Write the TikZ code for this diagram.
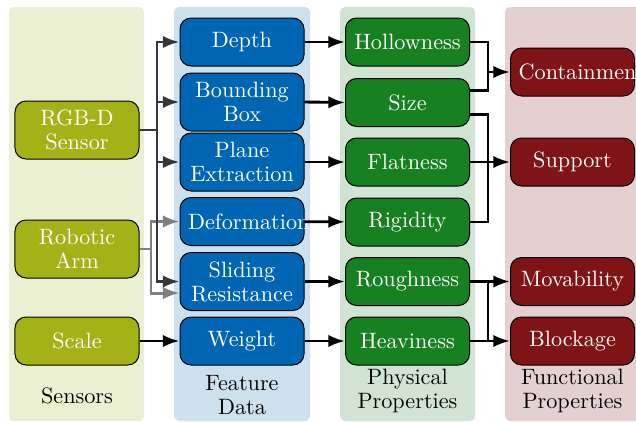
\documentclass[tikz,border=0pt]{standalone}
\usetikzlibrary{arrows.meta}
\definecolor{sensbg}{RGB}{235,240,211}
\definecolor{featbg}{RGB}{204,224,238}
\definecolor{physbg}{RGB}{209,228,212}
\definecolor{funcbg}{RGB}{228,208,209}
\definecolor{sensfill}{RGB}{164,178,24}
\definecolor{featfill}{RGB}{0,102,179}
\definecolor{physfill}{RGB}{23,128,33}
\definecolor{funcfill}{RGB}{127,20,22}
\definecolor{darkline}{RGB}{55,55,55}
\definecolor{grayline}{RGB}{128,128,128}
\tikzset{
  panel/.style={fill=#1, draw=none, rounded corners=2.2pt},
  box/.style={draw=black, line width=0.45pt, rounded corners=5pt, fill=#1,
    text=white, font=\fontsize{10}{10.8}\selectfont, align=center,
    text width=48.5pt, inner xsep=3.65pt, inner ysep=1pt,
    minimum height=21.6pt},
  tall/.style={minimum height=26.1pt},
  lbl/.style={align=center, font=\fontsize{10}{10.6}\selectfont, text=black},
  conn/.style={line width=1.3pt, -{Latex[length=7.5pt,width=5.6pt]}},
  plain/.style={line width=1.3pt},
}
\begin{document}
\begin{tikzpicture}[x=0.45pt, y=-0.45pt]
\clip (0,0) rectangle (636,422);
% panels
\path[panel=sensbg] (9,7) rectangle (144,421);
\path[panel=featbg] (174,7) rectangle (310,421);
\path[panel=physbg] (340,7) rectangle (475,421);
\path[panel=funcbg] (505,7) rectangle (645,421);
% sensors
\node[box=sensfill, tall] (rgbd) at (77,130) {RGB-D\\Sensor};
\node[box=sensfill, tall] (arm) at (77,249) {Robotic\\Arm};
\node[box=sensfill] (scale) at (77,341) {Scale};
% features
\node[box=featfill] (depth) at (242,42) {Depth};
\node[box=featfill, tall] (bbox) at (242,102) {Bounding\\Box};
\node[box=featfill, tall] (plane) at (242,162) {Plane\\Extraction};
\node[box=featfill] (deform) at (242,221.5) {Deformation};
\node[box=featfill, tall] (slide) at (242,281.5) {Sliding\\Resistance};
\node[box=featfill] (weight) at (242,341) {Weight};
% physical
\node[box=physfill] (holl) at (407.5,42) {Hollowness};
\node[box=physfill] (size) at (407.5,102.5) {Size};
\node[box=physfill] (flat) at (407.5,162) {Flatness};
\node[box=physfill] (rigid) at (407.5,222) {Rigidity};
\node[box=physfill] (rough) at (407.5,281.5) {Roughness};
\node[box=physfill] (heavy) at (407.5,341) {Heaviness};
% functional
\node[box=funcfill] (cont) at (572.5,72) {Containment};
\node[box=funcfill] (supp) at (572.5,162) {Support};
\node[box=funcfill] (mov) at (572.5,281.5) {Movability};
\node[box=funcfill] (block) at (572.5,341) {Blockage};
% labels
\node[lbl] (lsens) at (77,396) {Sensors};
\node[lbl] (lfeat) at (242,395) {Feature\\Data};
\node[lbl] (lphys) at (407.5,391) {Physical\\Properties};
\node[lbl] (lfunc) at (572.5,391) {Functional\\Properties};
% sensor -> feature connectors
\coordinate (ta) at (151,249);
\coordinate (td) at (157,130);
\draw[plain, grayline] (arm.east) -- (ta);
\draw[conn, grayline] (ta) |- (deform.west);
\draw[conn, grayline] (ta) |- ([yshift=-5.2pt]slide.west);
\draw[plain, darkline] (rgbd.east) -- (td);
\draw[conn, darkline] (td) |- (depth.west);
\draw[conn, darkline] (td) |- (bbox.west);
\draw[conn, darkline] (td) |- (plane.west);
\draw[conn, darkline] (td) |- (slide.west);
\draw[conn, black] (scale) -- (weight);
% feature -> physical
\draw[conn] (depth) -- (holl);
\draw[conn] (bbox.east) -- (size.west);
\draw[conn] (plane) -- (flat);
\draw[conn] (deform) -- (rigid);
\draw[conn] (slide) -- (rough);
\draw[conn] (weight) -- (heavy);
% physical -> functional
\coordinate (j1) at (488,72);
\coordinate (j2) at (488,162);
\coordinate (j3) at (488,281.5);
\coordinate (j4) at (488,341);
\draw[plain] (holl.east) -| (j1);
\draw[plain] ([yshift=5.6pt]size.east) -| (j1);
\draw[conn] (j1) -- (cont.west);
\draw[plain] ([yshift=-5.2pt]size.east) -| (j2);
\draw[plain] (rigid.east) -| (j2);
\draw[conn] (flat) -- (supp);
\draw[conn] (rough) -- (mov);
\draw[conn] (heavy) -- (block);
\draw[plain] (j3) -- (j4);
\end{tikzpicture}
\end{document}
